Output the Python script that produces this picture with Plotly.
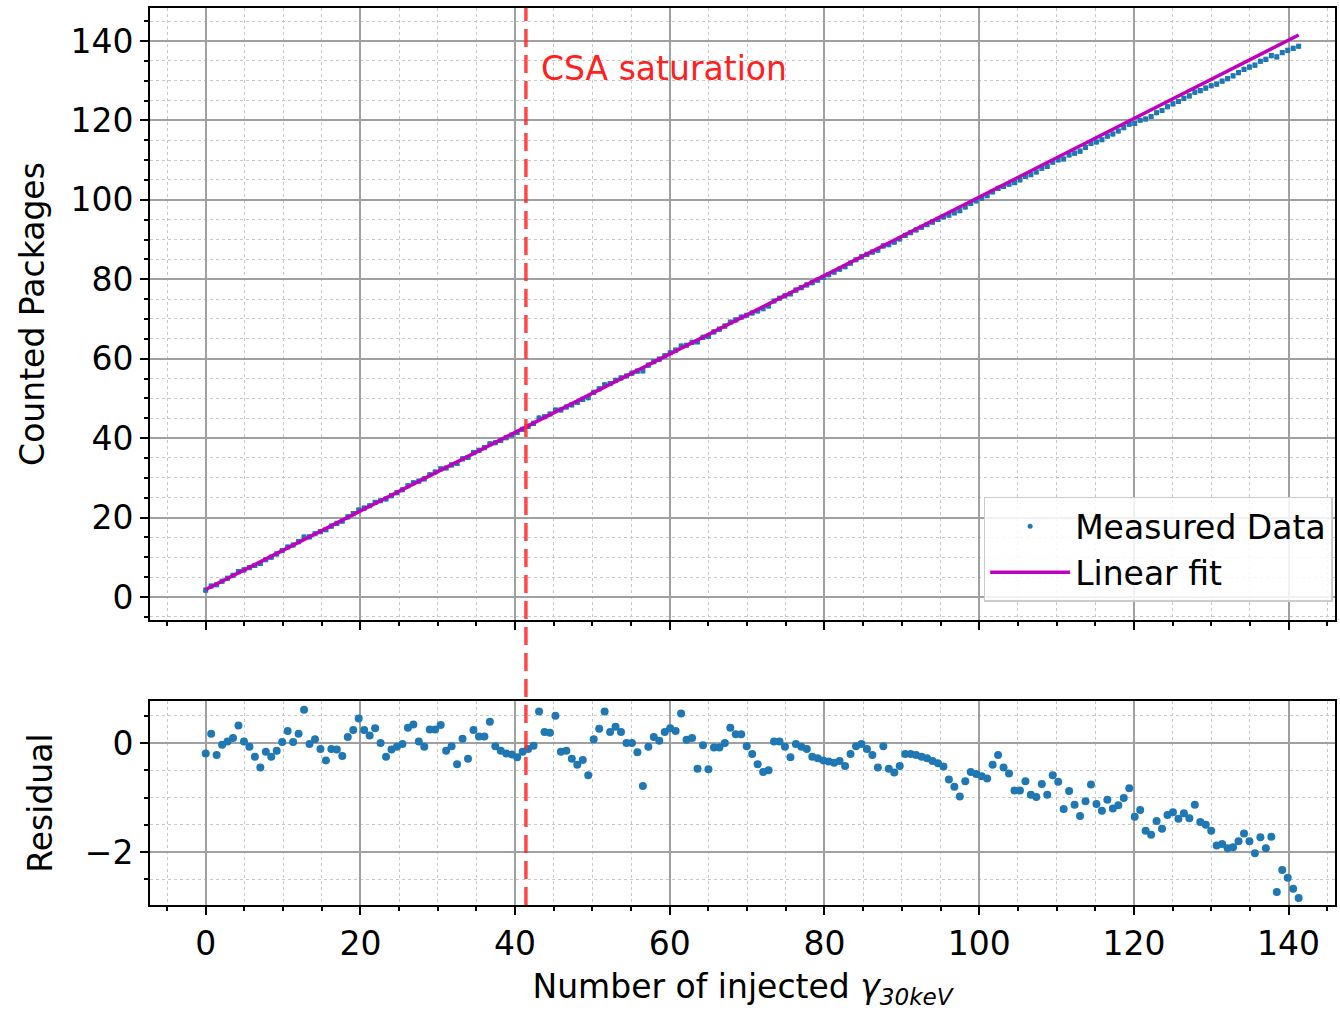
import plotly.graph_objects as go

# ---- data ----
residual = [
    -0.19, 0.17, -0.22, -0.03, 0.03, 0.09, 0.32, 0.03, -0.07, -0.25,
    -0.45, -0.16, -0.25, -0.14, 0.02, 0.22, 0.02, 0.17, 0.61, -0.02,
    0.07, -0.11, -0.32, -0.11, -0.12, -0.24, 0.11, 0.24, 0.45, 0.24,
    0.14, 0.27, 0.00, -0.25, -0.12, -0.07, -0.02, 0.28, 0.34, 0.03,
    -0.07, 0.25, 0.25, 0.33, -0.14, -0.06, -0.39, 0.08, -0.29, 0.24,
    0.12, 0.12, 0.39,
    -0.06, -0.14, -0.19, -0.21, -0.26, -0.16, -0.11, -0.05, 0.58, 0.20,
    0.19, 0.50, -0.16, -0.14, -0.29, -0.40, -0.31, -0.59, 0.07, 0.26,
    0.58, 0.20, 0.30, 0.20, 0.00, 0.00, -0.17, -0.79, -0.07, 0.11,
    0.04, 0.20, 0.27, 0.22, 0.54, 0.06, 0.09, -0.47, -0.04, -0.48,
    -0.08, -0.08, 0.00, 0.28, 0.16, 0.16, -0.06, -0.20, -0.39, -0.53,
    -0.50, 0.03, 0.03, -0.07, -0.26, -0.02, -0.07, -0.11, -0.25, -0.28,
    -0.32, -0.34, -0.36, -0.33, -0.42, -0.20, -0.06, -0.02, -0.11, -0.22,
    -0.45, -0.06, -0.47, -0.54, -0.42, -0.20, -0.20, -0.22, -0.25, -0.28,
    -0.33, -0.37, -0.43, -0.67, -0.80, -0.98, -0.70, -0.53, -0.57, -0.61,
    -0.65, -0.40, -0.22, -0.45, -0.56, -0.87, -0.87, -0.70, -0.95, -0.99,
    -0.75, -0.95, -0.59, -0.71, -1.21, -0.88,
    -1.13, -1.34, -1.07, -0.76, -1.12, -1.24, -1.04, -1.20, -1.14, -1.01,
    -0.83, -1.35, -1.23, -1.61, -1.68, -1.43, -1.57, -1.32, -1.27, -1.39,
    -1.29, -1.38, -1.13, -1.45, -1.50, -1.61, -1.88, -1.85, -1.93, -1.91,
    -1.80, -1.66, -1.80, -2.02, -1.73, -1.93, -1.72, -2.73, -2.33, -2.47,
    -2.67, -2.84,
]
x_max = 141.3                      # last injected value
fit_intercept = 1.9
fit_slope = 0.988
meas_err = 0.4
csa_saturation = 41.4

n = len(residual)
x = [x_max * i / (n - 1) for i in range(n)]
fit = [fit_intercept + fit_slope * xi for xi in x]
measured = [f + r for f, r in zip(fit, residual)]

BLUE = "#1f77b4"
MAG = "#bf00bf"
FONT = "DejaVu Sans"
FS = 33

fig = go.Figure()

fig.add_trace(go.Scatter(
    x=x, y=measured, mode="markers", name="Measured Data",
    marker=dict(color=BLUE, size=5),
    error_y=dict(type="constant", value=meas_err, color=BLUE, thickness=2, width=2.5),
    xaxis="x", yaxis="y"))
fig.add_trace(go.Scatter(
    x=[x[0], x[-1]], y=[fit[0], fit[-1]], mode="lines", name="Linear fit",
    line=dict(color=MAG, width=3.5), xaxis="x", yaxis="y"))
fig.add_trace(go.Scatter(
    x=x, y=residual, mode="markers", showlegend=False,
    marker=dict(color=BLUE, size=8), xaxis="x2", yaxis="y2"))

major_grid = "#a0a0a0"
minor_grid = "#c8c8c8"

common_x = dict(
    range=[-7.2, 146], dtick=20, tick0=0, showline=True, mirror=True,
    linecolor="black", linewidth=2, ticks="outside", ticklen=8, tickwidth=2,
    tickcolor="black", showgrid=True, gridcolor=major_grid, gridwidth=1.5,
    zeroline=False,
    minor=dict(dtick=5, ticks="outside", ticklen=4, tickwidth=1.5, tickcolor="black",
               showgrid=True, gridcolor=minor_grid, griddash="dot", gridwidth=1),
    tickfont=dict(size=FS, color="black", family=FONT),
)
common_y = dict(
    showline=True, mirror=True, linecolor="black", linewidth=2,
    ticks="outside", ticklen=8, tickwidth=2, tickcolor="black",
    showgrid=True, gridcolor=major_grid, gridwidth=1.5, zeroline=False,
    tickfont=dict(size=FS, color="black", family=FONT),
)

fig.update_layout(
    width=1340, height=1010,
    margin=dict(l=150, r=3, t=8, b=105),
    paper_bgcolor="white", plot_bgcolor="white",
    font=dict(family=FONT, size=FS, color="black"),
    xaxis=dict(common_x, domain=[0, 1], anchor="y", showticklabels=False, matches="x2"),
    yaxis=dict(common_y, domain=[0.3177, 1], anchor="x", range=[-5.8, 148.3],
               dtick=20, tick0=0,
               minor=dict(dtick=5, ticks="outside", ticklen=4, tickwidth=1.5,
                          tickcolor="black", showgrid=True, gridcolor=minor_grid,
                          griddash="dot", gridwidth=1),
               title=dict(text="Counted Packages", font=dict(size=FS), standoff=16)),
    xaxis2=dict(common_x, domain=[0, 1], anchor="y2",
                title=dict(text="Number of injected <i>γ</i><sub><i>30keV</i></sub>",
                           font=dict(size=FS), standoff=16)),
    yaxis2=dict(common_y, domain=[0, 0.2274], anchor="x2", range=[-2.97, 0.77],
                dtick=2, tick0=0,
                minor=dict(dtick=0.5, ticks="outside", ticklen=4, tickwidth=1.5,
                           tickcolor="black", showgrid=True, gridcolor=minor_grid,
                           griddash="dot", gridwidth=1),
                title=dict(text="Residual", font=dict(size=FS), standoff=22)),
    legend=dict(x=0.998, xanchor="right", y=0.338, yanchor="bottom",
                bgcolor="rgba(255,255,255,0.85)", bordercolor="#cccccc", borderwidth=1.5,
                font=dict(size=FS, family=FONT), itemwidth=80, tracegroupgap=4),
    showlegend=True,
)

fig.add_shape(type="line", xref="x", yref="paper", x0=csa_saturation, x1=csa_saturation,
              y0=0, y1=1, line=dict(color="rgba(255,40,40,0.85)", width=3.5, dash="18px,8px"),
              layer="above")
fig.add_annotation(x=csa_saturation + 1.7, y=133, xref="x", yref="y", text="CSA saturation",
                   showarrow=False, xanchor="left", yanchor="middle",
                   font=dict(color="#ff2020", size=FS, family=FONT))

fig.write_html("out.html")
